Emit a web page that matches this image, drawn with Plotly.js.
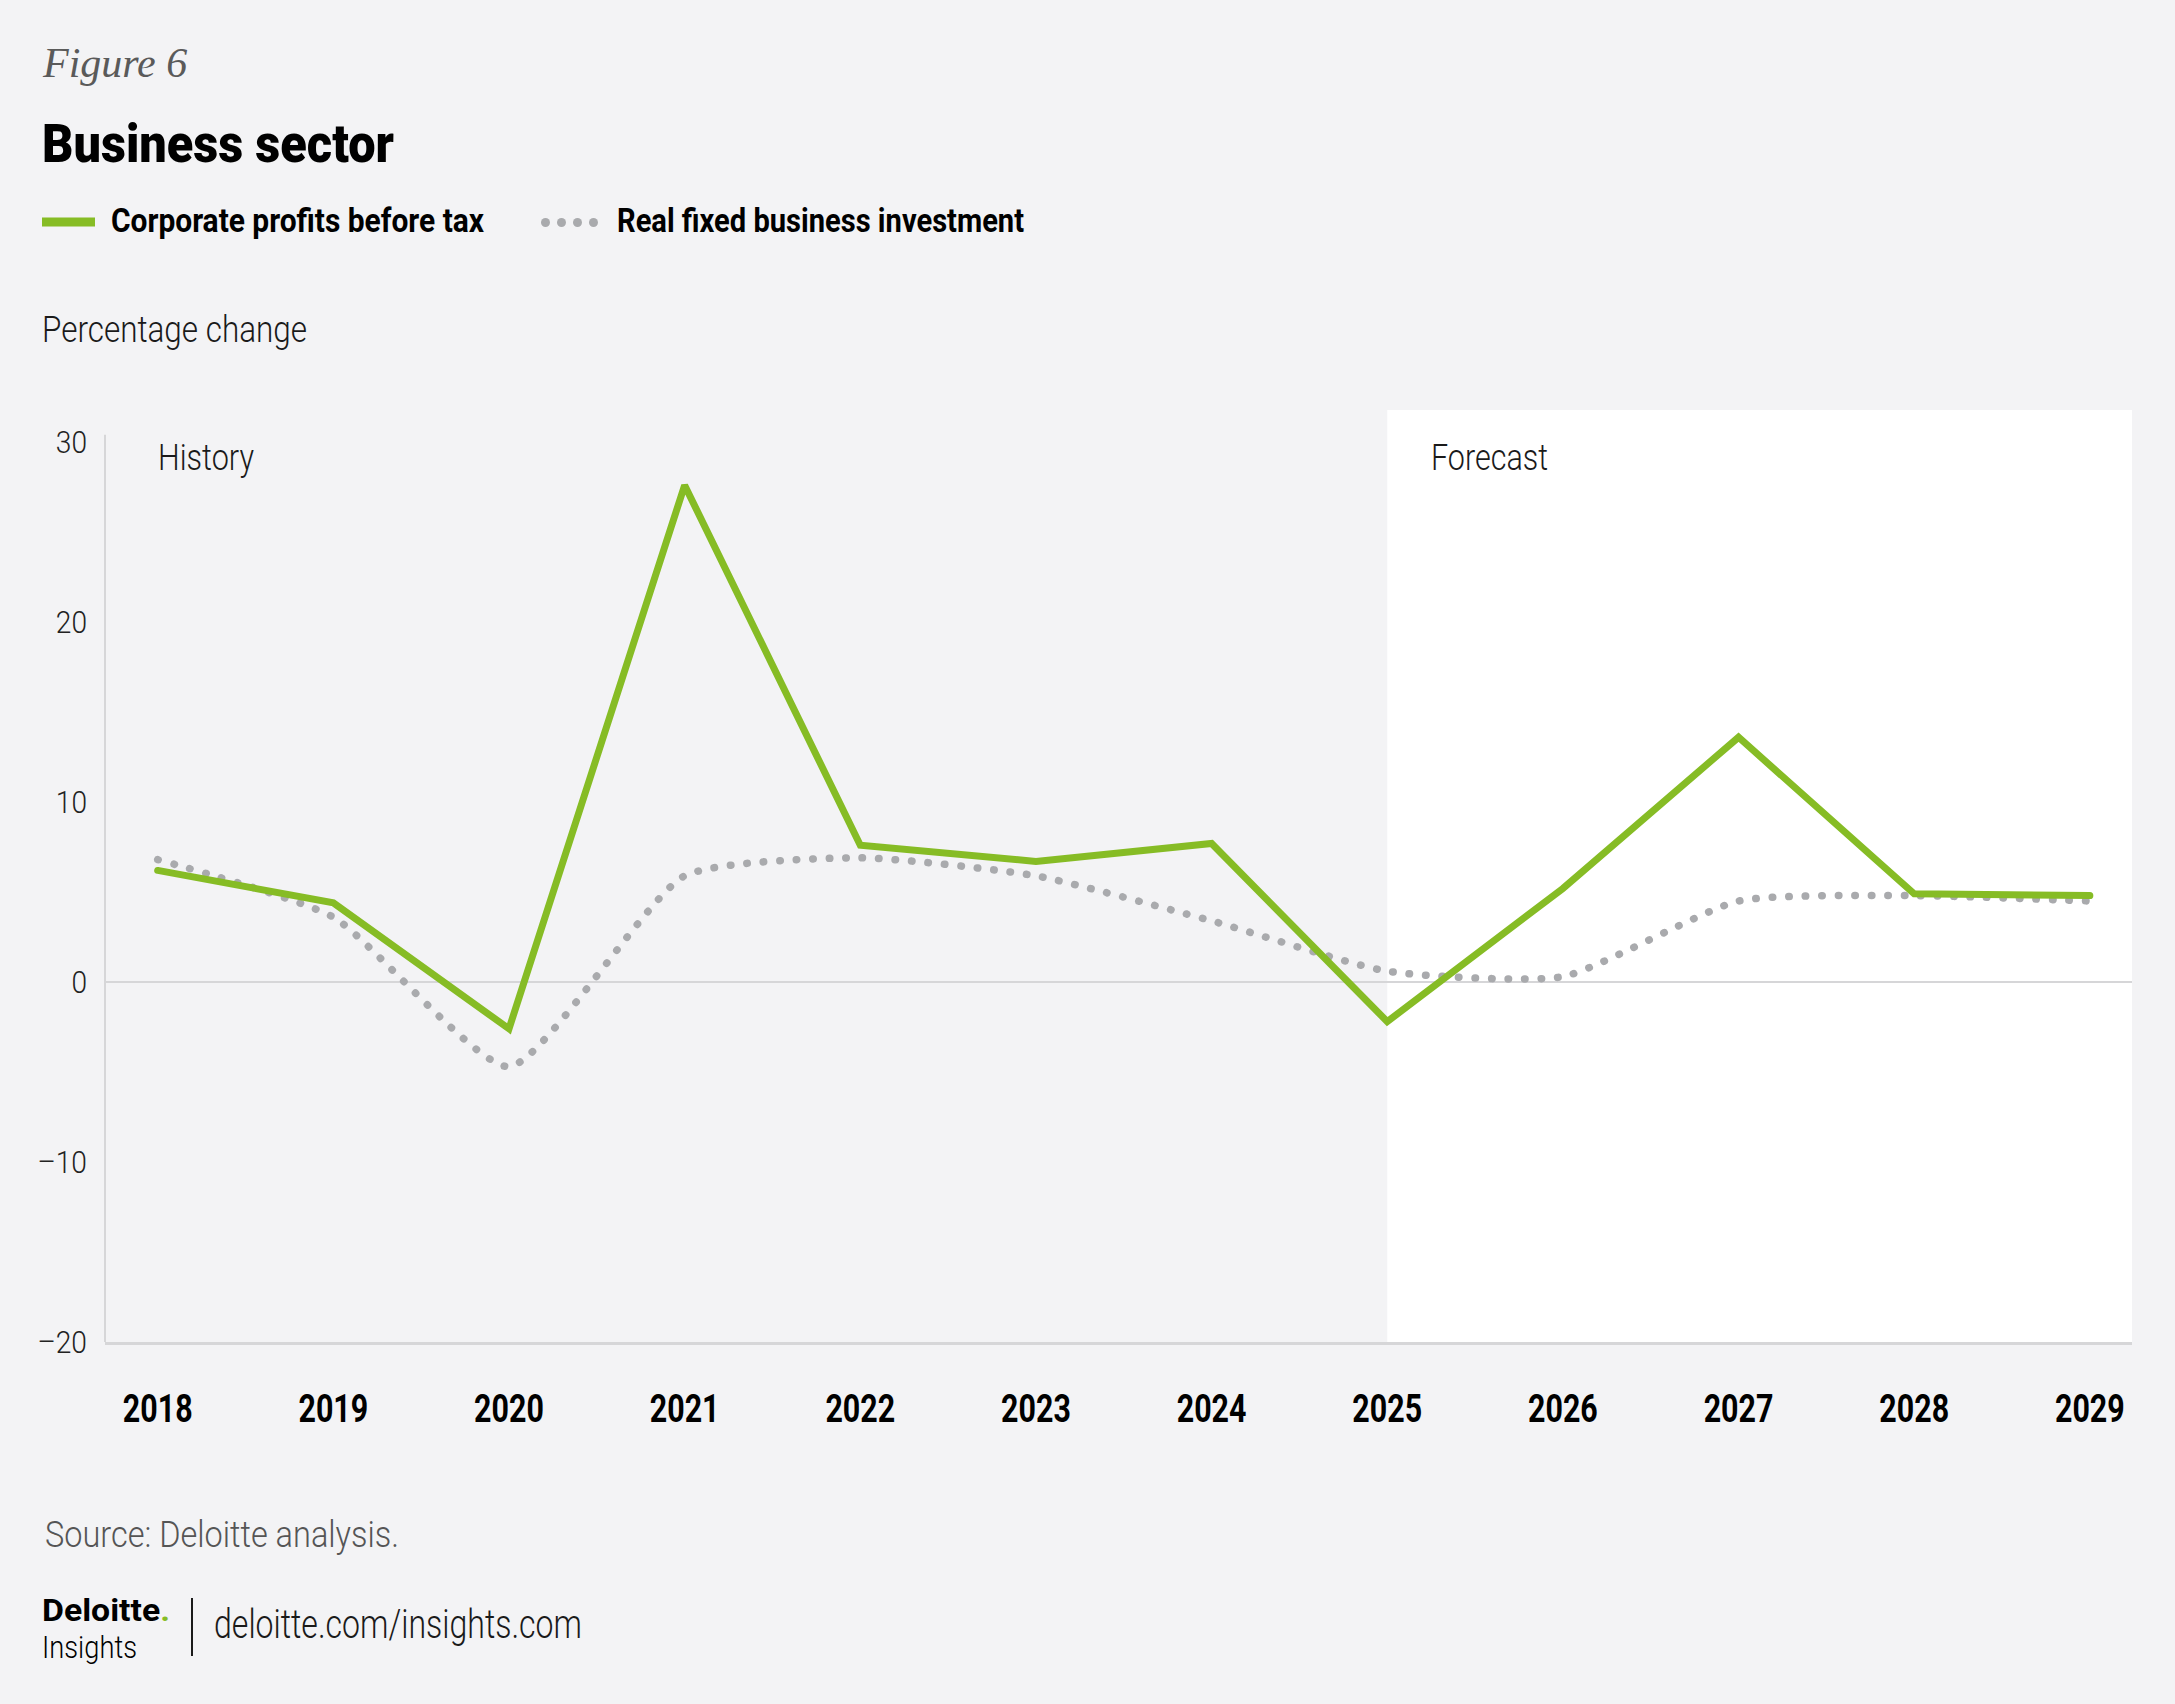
<!DOCTYPE html>
<html><head><meta charset="utf-8">
<script src="https://cdn.plot.ly/plotly-3.0.1.min.js"></script>
<style>
html,body{margin:0;padding:0;background:#f3f3f5;}
#chart{width:2175px;height:1704px;}
.js-line{stroke-linecap:round;}
</style>
</head><body><div id="chart"></div>
<script>
// ---- data ----
const years = [2018, 2019, 2020, 2021, 2022, 2023, 2024, 2025, 2026, 2027, 2028, 2029];
const profits = [6.2, 4.4, -2.6, 27.6, 7.6, 6.7, 7.7, -2.2, 5.2, 13.6, 4.9, 4.8];
const investment = [6.8, 3.6, -4.7, 5.9, 6.9, 5.9, 3.4, 0.6, 0.3, 4.5, 4.8, 4.5];
const yTickVals = [30, 20, 10, 0, -10, -20];
const yTickText = ['30', '20', '10', '0', '\u201310', '\u201320'];
const xTickText = years.map(String);
const seriesNames = ['Corporate profits before tax', 'Real fixed business investment'];
const forecastStart = 2025;

// ---- layout helpers ----
const W = 2175, H = 1704, L = 105, R = 2132, T = 410, B = 1342;
const px = x => (x - L) / (R - L);
const py = y => (B - y) / (B - T);
const SANS = "Roboto, 'Liberation Sans', sans-serif";
const GREEN = '#86bc25', GRAY = '#a9aaad', BG = '#f3f3f5';

const annWidths = [];
function ann(text, x, y, size, weight, width, color, family, style, yanchor) {
  annWidths.push(width);
  return {
    text: text, xref: 'paper', yref: 'paper', x: px(x), y: py(y),
    xanchor: 'left', yanchor: yanchor || 'middle', align: 'left', showarrow: false, borderpad: 0,
    font: {family: family || SANS, size: size, color: color || '#1a1a1a', weight: weight, style: style || 'normal'}
  };
}

const traces = [
  {x: years, y: investment, name: seriesNames[1], type: 'scatter', mode: 'lines',
   line: {color: GRAY, width: 7.5, dash: '0.5px,16px', shape: 'spline', smoothing: 0.55},
   hoverinfo: 'x+y'},
  {x: years, y: profits, name: seriesNames[0], type: 'scatter', mode: 'lines',
   line: {color: GREEN, width: 7}, hoverinfo: 'x+y'}
];

const LOGO_INDEX = 8;
const annotations = [
  ann('Figure 6', 41, 63, 42, 400, null, '#5a5a5a', "'Liberation Serif', 'DejaVu Serif', serif", 'italic'),
  ann('Business sector', 41, 144, 53, 900, 352, '#000'),
  ann(seriesNames[0], 110, 220, 33, 700, 373, '#000'),
  ann(seriesNames[1], 616, 220, 33, 700, 407, '#000'),
  ann('Percentage change', 41, 329, 37, 300, 265),
  ann('History', 157, 458, 36, 300, 96),
  ann('Forecast', 1430, 458, 36, 300, 117),
  ann('Source: Deloitte analysis.', 44, 1535, 36, 300, 354, '#555'),
  ann('Deloitte<span style="color:#86bc25">.</span><br><span style="font-weight:300;font-size:31px">Insights</span>',
      41, 1590, 32, 700, null, '#000', null, null, 'top'),
  ann('deloitte.com/insights.com', 213, 1625, 40, 300, 368)
];

const layout = {
  width: W, height: H,
  margin: {l: L, r: W - R, t: T, b: H - B, pad: 0},
  paper_bgcolor: BG, plot_bgcolor: BG,
  showlegend: false,
  xaxis: {
    range: [2017.70, 2029.24], tickvals: years, ticktext: xTickText,
    showgrid: false, zeroline: false, showline: true, linecolor: '#d6d6d8', linewidth: 3,
    ticks: '', ticklabelstandoff: 31,
    tickfont: {family: SANS, size: 38, color: '#000', weight: 700}
  },
  yaxis: {
    range: [-20, 31.78], tickvals: yTickVals, ticktext: yTickText,
    showgrid: false, zeroline: true, zerolinecolor: '#d6d6d8', zerolinewidth: 2,
    showline: false, ticks: '', ticklabelstandoff: 17,
    tickfont: {family: SANS, size: 32, color: '#222', weight: 300}
  },
  shapes: [
    {type: 'rect', layer: 'below', xref: 'x', yref: 'paper', x0: forecastStart, x1: 2029.24, y0: 0, y1: 1,
     fillcolor: '#ffffff', line: {width: 0}},
    {type: 'line', layer: 'above', xref: 'paper', yref: 'y', x0: 0, x1: 0, y0: -20, y1: 30.4,
     line: {color: '#d6d6d8', width: 2}},
    {type: 'line', xref: 'paper', yref: 'paper', x0: px(42), x1: px(95), y0: py(222), y1: py(222),
     line: {color: GREEN, width: 9}},
    {type: 'circle', xref: 'paper', yref: 'paper', x0: px(541), x1: px(550), y0: py(218), y1: py(227), fillcolor: GRAY, line: {width: 0}},
    {type: 'circle', xref: 'paper', yref: 'paper', x0: px(557), x1: px(566), y0: py(218), y1: py(227), fillcolor: GRAY, line: {width: 0}},
    {type: 'circle', xref: 'paper', yref: 'paper', x0: px(573), x1: px(582), y0: py(218), y1: py(227), fillcolor: GRAY, line: {width: 0}},
    {type: 'circle', xref: 'paper', yref: 'paper', x0: px(589), x1: px(598), y0: py(218), y1: py(227), fillcolor: GRAY, line: {width: 0}},
    {type: 'line', xref: 'paper', yref: 'paper', x0: px(192), x1: px(192), y0: py(1598), y1: py(1656),
     line: {color: '#1a1a1a', width: 2}}
  ],
  annotations: annotations
};

function squeeze(el, target) {
  const len = el.getComputedTextLength();
  if (len > 0 && target > 0) {
    el.setAttribute('textLength', target.toFixed(1));
    el.setAttribute('lengthAdjust', 'spacingAndGlyphs');
  }
}

Plotly.newPlot('chart', traces, layout, {displayModeBar: false, staticPlot: true}).then(gd => {
  annWidths.forEach((w, i) => {
    if (!w) return;
    const t = gd.querySelector('.annotation[data-index="' + i + '"] text.annotation-text');
    if (t) squeeze(t, w);
  });
  // logo: two tight lines
  const logo = gd.querySelector('.annotation[data-index="' + LOGO_INDEX + '"] text.annotation-text');
  if (logo) {
    const lines = logo.querySelectorAll('tspan.line');
    if (lines.length === 2) {
      lines[1].setAttribute('dy', '37px');
      squeeze(lines[0], 128);
      squeeze(lines[1], 95);
    }
  }
  gd.querySelectorAll('.xtick text').forEach(t => squeeze(t, t.getComputedTextLength() * 0.80));
  gd.querySelectorAll('.ytick text').forEach(t => squeeze(t, t.getComputedTextLength() * 0.88));
});
</script>
</body></html>
